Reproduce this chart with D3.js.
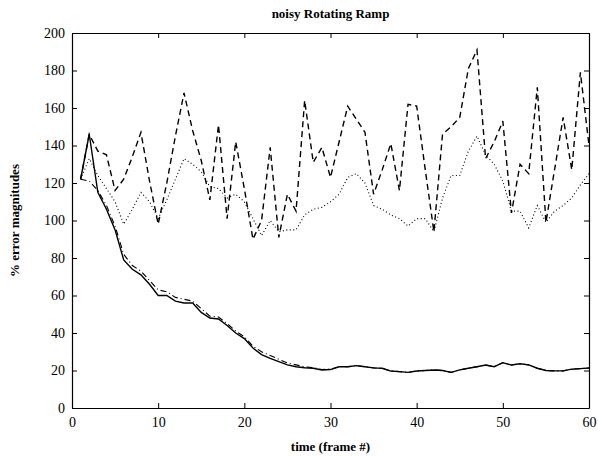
<html>
<head>
    <style>
        body { margin: 0; background: #fff; }
        text { font-family: "Liberation Serif", "DejaVu Serif", serif; fill: #000; }
    </style>
</head>
<body>
    <svg id="chart"></svg>
</body>
<script src="https://cdn.jsdelivr.net/npm/d3@7"></script>
<script>
    let width = 598,
        height = 456;
    let margin = { top: 33, right: 9, bottom: 48, left: 72 };

    // frames 1..60
    let frames = d3.range(1, 61)

    let solid = [122, 146, 115, 106, 95, 79, 74, 71, 66, 60,
        60, 57, 56, 56, 51, 48, 47.5, 44, 40, 37,
        32, 28.5, 26.5, 24.7, 23, 22, 21.5, 21.2, 20.3, 20.5,
        22, 22, 22.6, 22, 21.4, 21.2, 19.7, 19.4, 19, 19.7,
        20, 20.3, 20, 19, 20.3, 21.2, 22, 22.9, 22, 24.2,
        22.9, 23.6, 23, 21.2, 20, 19.8, 19.8, 20.7, 21, 21.3]

    let dashDot = [122, 121, 116, 108, 97, 82, 76, 73, 68, 63,
        62, 59, 58, 57, 53, 49, 48.5, 45, 41, 38,
        33, 30, 28, 26, 24, 23, 22, 21.5, 20.5, 20.7,
        22, 22, 22.6, 22, 21.4, 21.2, 19.7, 19.4, 19, 19.7,
        20, 20.3, 20, 19, 20.3, 21.2, 22, 22.9, 22, 24.2,
        22.9, 23.6, 23, 21.2, 20, 19.8, 19.8, 20.7, 21, 21.3]

    let dashed = [122, 146, 137, 135, 116, 122, 134, 147, 121, 98,
        120, 145, 168, 148, 132, 111, 151, 101, 142, 117,
        90, 100, 139, 91, 114, 105, 164, 131, 139, 123,
        142, 161, 154, 147, 114, 127, 141, 116, 162, 161,
        127, 94, 146, 150, 155, 181, 191, 133, 142, 153,
        104, 130, 125, 171, 99, 127, 155, 127, 179, 140]

    let dotted = [122, 133, 124, 117, 110, 98, 106, 115, 110, 101,
        111, 122, 133, 130, 126, 118, 117, 112, 114, 110,
        101, 92, 100, 94, 95, 95, 103, 106, 107, 110,
        114, 123, 125, 120, 108, 106, 103, 101, 97, 101,
        101, 94, 112, 124, 124, 137, 145, 135, 130, 121,
        105, 105, 96, 108, 99, 105, 108, 112, 119, 125]

    let xTicks = [0, 10, 20, 30, 40, 50, 60]
    let yTicks = [0, 20, 40, 60, 80, 100, 120, 140, 160, 180, 200]

    let svg = d3.select("#chart").attr("width", width).attr("height", height)

    let x = d3.scaleLinear().domain([0, 60]).range([margin.left, width - margin.right])
    let y = d3.scaleLinear().domain([0, 200]).range([height - margin.bottom, margin.top])

    // axes with inward ticks on all four sides
    svg.append("g")
        .attr("transform", `translate(0,${y(0)})`)
        .call(d3.axisBottom(x).tickValues(xTicks).tickSizeInner(-5).tickSizeOuter(0).tickPadding(9))
    svg.append("g")
        .attr("transform", `translate(0,${y(200)})`)
        .call(d3.axisTop(x).tickValues(xTicks).tickSizeInner(-5).tickSizeOuter(0).tickFormat(""))
    svg.append("g")
        .attr("transform", `translate(${x(0)},0)`)
        .call(d3.axisLeft(y).tickValues(yTicks).tickSizeInner(-5).tickSizeOuter(0).tickPadding(7))
    svg.append("g")
        .attr("transform", `translate(${x(60)},0)`)
        .call(d3.axisRight(y).tickValues(yTicks).tickSizeInner(-5).tickSizeOuter(0).tickFormat(""))

    svg.selectAll(".domain").attr("stroke", "#000").attr("stroke-width", 1.2)
    svg.selectAll(".tick line").attr("stroke", "#000")
    svg.selectAll(".tick text").style("font-size", "14px").style("font-family", "Liberation Serif, serif")

    let line = d3.line().x((d, i) => x(frames[i])).y(d => y(d))

    let series = [
        { values: dotted, dash: "1,2.5", w: 1.1 },
        { values: dashed, dash: "6,4", w: 1.4 },
        { values: dashDot, dash: "6,3,1,3", w: 1.1 },
        { values: solid, dash: null, w: 1.4 }
    ]

    svg.append("g").selectAll("path")
        .data(series)
        .enter()
        .append("path")
        .attr("d", d => line(d.values))
        .attr("fill", "none")
        .attr("stroke", "#000")
        .attr("stroke-width", d => d.w)
        .attr("stroke-dasharray", d => d.dash)

    svg.append("text")
        .attr("x", (x(0) + x(60)) / 2)
        .attr("y", 18)
        .attr("text-anchor", "middle")
        .style("font-size", "13px")
        .style("font-weight", "bold")
        .text("noisy Rotating Ramp")

    svg.append("text")
        .attr("x", (x(0) + x(60)) / 2)
        .attr("y", 451)
        .attr("text-anchor", "middle")
        .style("font-size", "13px")
        .style("font-weight", "bold")
        .text("time (frame #)")

    svg.append("text")
        .attr("transform", `translate(19,${(y(0) + y(200)) / 2}) rotate(-90)`)
        .attr("text-anchor", "middle")
        .style("font-size", "13px")
        .style("font-weight", "bold")
        .text("% error magnitudes")
</script>
</html>
